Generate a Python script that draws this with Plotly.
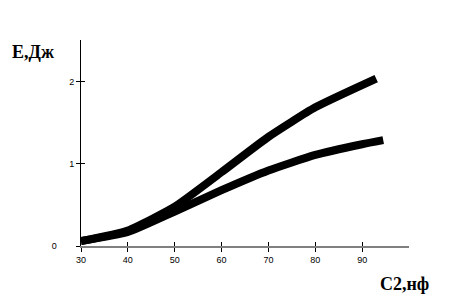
import plotly.graph_objects as go

# Data
x_upper = [30, 40, 50, 60, 70, 80, 93]
y_upper = [0.06, 0.19, 0.48, 0.9, 1.33, 1.69, 2.04]
x_lower = [30, 40, 50, 60, 70, 80, 90, 94.5]
y_lower = [0.06, 0.17, 0.42, 0.68, 0.92, 1.11, 1.24, 1.29]

x_ticks = [30, 40, 50, 60, 70, 80, 90]
y_ticks = [0, 1, 2]
y_tick_text = ["0" + "\u00a0" * 7, "1", "2"]
y_label = "E,Дж"
x_label = "C2,нф"

fig = go.Figure()
for xs, ys in [(x_upper, y_upper), (x_lower, y_lower)]:
    fig.add_trace(go.Scatter(x=xs, y=ys, mode="lines",
                             line=dict(color="black", width=8, shape="spline", smoothing=0.5),
                             showlegend=False, hoverinfo="skip"))

tickfont = dict(family="Liberation Sans", size=9, color="black")
fig.update_layout(
    width=476, height=306,
    margin=dict(l=73, r=75, t=32, b=68, autoexpand=False),
    paper_bgcolor="white", plot_bgcolor="white",
    xaxis=dict(range=[30, 100], tickvals=x_ticks, ticks="outside", ticklen=4,
               tickcolor="black", tickwidth=1, showgrid=False, zeroline=False,
               showline=True, linecolor="#808080", linewidth=2, tickfont=tickfont),
    yaxis=dict(range=[0, 2.51], tickvals=y_ticks, ticktext=y_tick_text,
               ticks="outside", ticklen=4,
               tickcolor="black", tickwidth=1, showgrid=False, zeroline=False,
               showline=True, linecolor="black", linewidth=1, tickfont=tickfont),
    xaxis2=dict(overlaying="x", matches="x", range=[30, 100], tickvals=x_ticks,
                ticks="inside", ticklen=4, tickcolor="black", showticklabels=False,
                showgrid=False, zeroline=False, showline=False, side="bottom"),
    yaxis2=dict(overlaying="y", matches="y", range=[0, 2.51], tickvals=y_ticks,
                ticks="inside", ticklen=4, tickcolor="black", showticklabels=False,
                showgrid=False, zeroline=False, showline=False, side="left"),
    annotations=[
        dict(text="<b>" + y_label + "</b>", xref="paper", yref="paper",
             x=-0.216, y=0.942, xanchor="left", yanchor="middle", showarrow=False,
             font=dict(family="Liberation Serif", size=18, color="black")),
        dict(text="<b>" + x_label + "</b>", xref="paper", yref="paper",
             x=0.986, y=-0.184, xanchor="center", yanchor="middle", showarrow=False,
             font=dict(family="Liberation Serif", size=18, color="black")),
    ],
)
# invisible trace to activate the second axes for crossing ticks
fig.add_trace(go.Scatter(x=[30], y=[0], xaxis="x2", yaxis="y2", mode="markers",
                         marker=dict(opacity=0), showlegend=False, hoverinfo="skip"))

fig.write_html("out.html")
